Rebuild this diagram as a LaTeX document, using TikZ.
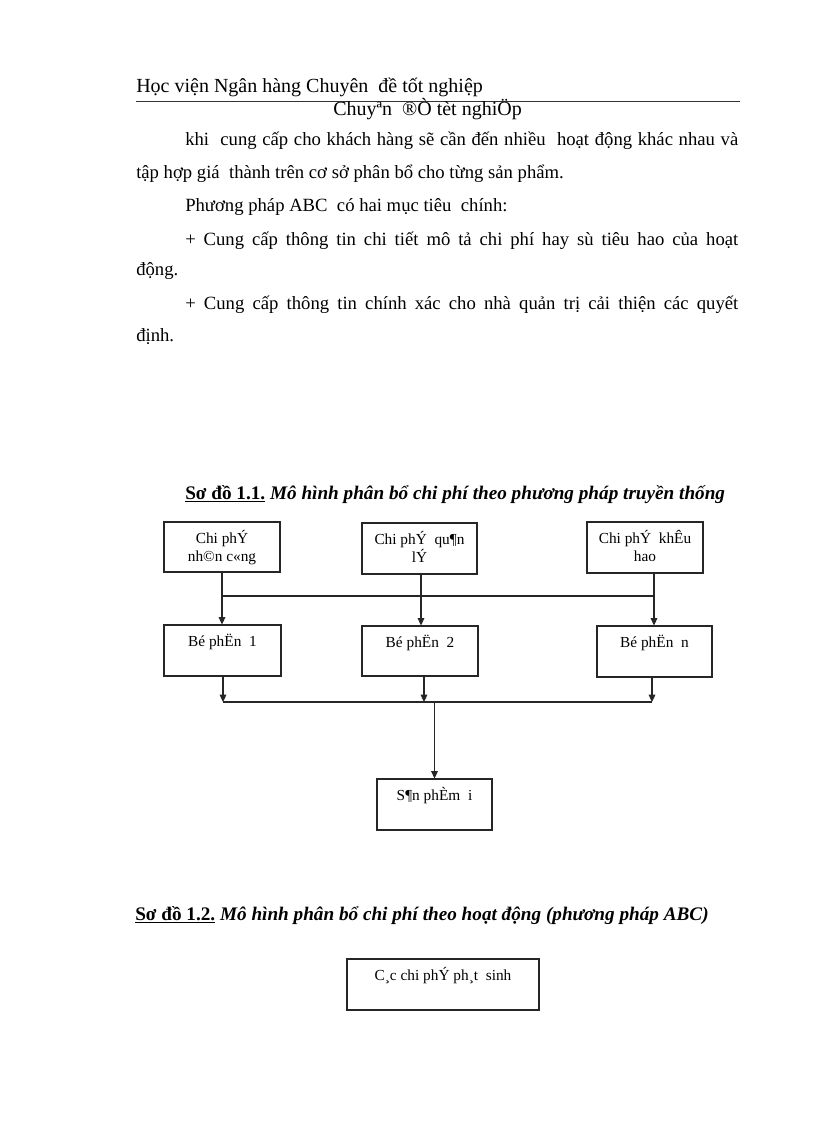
\documentclass[tikz,border=0pt]{standalone}
\usepackage{fontspec}
\setmainfont{Liberation Serif}
\usetikzlibrary{arrows.meta}
\newcommand{\bxt}[3]{\parbox[c][#2][t]{#1}{\centering\fontsize{11.5}{13.5}\selectfont\rule{0pt}{15.75pt}#3}}
\tikzset{
  cbox/.style={draw=black!85, line width=0.8pt, inner sep=0pt, rectangle},
  ln/.style={draw=black!85, line width=0.8pt},
  arr/.style={ln, -{Triangle[length=5.5pt,width=5pt]}},
  txt/.style={inner sep=0pt, anchor=base west},
}
\begin{document}
\begin{tikzpicture}[x=0.75pt,y=-0.75pt]
\path[use as bounding box, fill=white] (0,0) rectangle (816,1123);
% header
\node[txt] (hdr) at (136,93) {\fontsize{15}{17}\selectfont Học viện Ngân hàng Chuyên\ \ đề tốt nghiệp};
\coordinate (r1) at (136,102);
\coordinate (r2) at (740,102);
\draw[line width=0.75pt, black!80] (r1) -- (r2);
\node[inner sep=0pt, anchor=base east] (hdr2) at (522,115.5) {\fontsize{15}{17}\selectfont Chuyªn\ \ ®Ò tèt nghiÖp};
% body
\node[txt] (l1) at (185,146) {\fontsize{14}{16}\selectfont\makebox[414.75pt][s]{khi\ \ cung cấp cho khách hàng sẽ cần đến nhiều\ \ hoạt động khác nhau và}};
\node[txt] (l2) at (136,179) {\fontsize{14}{16}\selectfont tập hợp giá\ \ thành trên cơ sở phân bổ cho từng sản phẩm.};
\node[txt] (l3) at (185,212) {\fontsize{14}{16}\selectfont Phương pháp ABC\ \ có hai mục tiêu\ \ chính:};
\node[txt] (l4) at (185,245) {\fontsize{14}{16}\selectfont\makebox[414.75pt][s]{+ Cung cấp thông tin chi tiết mô tả chi phí hay sù tiêu hao của hoạt}};
\node[txt] (l5) at (136,275) {\fontsize{14}{16}\selectfont động.};
\node[txt] (l6) at (185,309) {\fontsize{14}{16}\selectfont\makebox[414.75pt][s]{+ Cung cấp thông tin chính xác cho nhà quản trị cải thiện các quyết}};
\node[txt] (l7) at (136,341) {\fontsize{14}{16}\selectfont định.};
% title 1
\node[txt] (ti1) at (185,499) {\fontsize{14.4}{17}\selectfont\bfseries\underline{Sơ đồ 1.1.} \textit{Mô hình phân bổ chi phí theo phương pháp truyền thống}};
% diagram 1
\node[cbox] (t1) at (222,547) {\bxt{87pt}{37.5pt}{Chi phÝ\\nh©n c«ng}};
\node[cbox] (t2) at (419.5,548.5) {\bxt{86.25pt}{38.25pt}{Chi phÝ\ \ qu¶n\\lÝ}};
\node[cbox] (t3) at (645,547.5) {\bxt{87pt}{38.25pt}{Chi phÝ\ \ khÊu\\hao}};
\node[cbox] (b1) at (222.5,650.5) {\bxt{87.75pt}{38.25pt}{Bé phËn\ \ 1}};
\node[cbox] (b2) at (420,651) {\bxt{87pt}{37.5pt}{Bé phËn\ \ 2}};
\node[cbox] (b3) at (654.5,651.5) {\bxt{86.25pt}{38.25pt}{Bé phËn\ \ n}};
\node[cbox] (p) at (434.5,804.5) {\bxt{86.25pt}{38.25pt}{S¶n phÈm\ \ i}};
\coordinate (j1) at (222,596);
\coordinate (j2) at (421,596);
\coordinate (j3) at (654,596);
\coordinate (k1) at (223,702);
\coordinate (k2) at (424,702);
\coordinate (k3) at (652,702);
\coordinate (k0) at (434.5,702);
\draw[ln] (j1 |- t1.south) -- (j1);
\draw[ln] (j2 |- t2.south) -- (j2);
\draw[ln] (j3 |- t3.south) -- (j3);
\draw[ln] (j1) -- (j3);
\draw[arr] (j1) -- (j1 |- b1.north);
\draw[arr] (j2) -- (j2 |- b2.north);
\draw[arr] (j3) -- (j3 |- b3.north);
\draw[arr] (k1 |- b1.south) -- (k1);
\draw[arr] (k2 |- b2.south) -- (k2);
\draw[arr] (k3 |- b3.south) -- (k3);
\draw[ln] (k1) -- (k3);
\draw[arr] (k0) -- (p.north);
% title 2
\node[txt] (ti2) at (135,920) {\fontsize{14.4}{17}\selectfont\bfseries\underline{Sơ đồ 1.2.} \textit{Mô hình phân bổ chi phí theo hoạt động (phương pháp ABC)}};
\node[cbox] (f) at (443,984.5) {\bxt{144pt}{38.25pt}{C¸c chi phÝ ph¸t\ \ sinh}};
\end{tikzpicture}
\end{document}
